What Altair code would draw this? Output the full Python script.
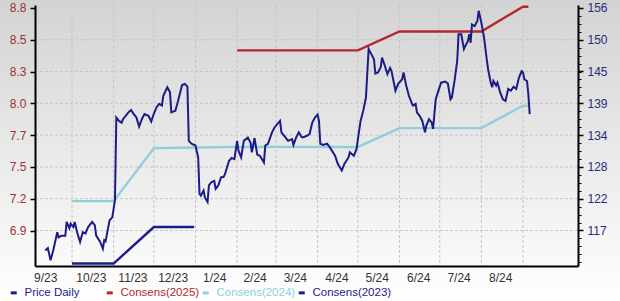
import altair as alt
import pandas as pd

FONT = "Liberation Sans"

# ---------------- data ----------------
price_dates = [
    "2023-09-11", "2023-09-13", "2023-09-15", "2023-09-17", "2023-09-20", "2023-09-21", "2023-09-23",
    "2023-09-26", "2023-09-27", "2023-09-29", "2023-09-30", "2023-10-02", "2023-10-03", "2023-10-05",
    "2023-10-07", "2023-10-09", "2023-10-11", "2023-10-13", "2023-10-16", "2023-10-18", "2023-10-19",
    "2023-10-22", "2023-10-24", "2023-10-25", "2023-10-26", "2023-10-28", "2023-10-29", "2023-10-31",
    "2023-11-02", "2023-11-03", "2023-11-05", "2023-11-07", "2023-11-08", "2023-11-10", "2023-11-12",
    "2023-11-14", "2023-11-16", "2023-11-18", "2023-11-20", "2023-11-22", "2023-11-24", "2023-11-27",
    "2023-11-29", "2023-12-01", "2023-12-03", "2023-12-05", "2023-12-07", "2023-12-08", "2023-12-11",
    "2023-12-13", "2023-12-14", "2023-12-17", "2023-12-19", "2023-12-22", "2023-12-24", "2023-12-26",
    "2023-12-27", "2023-12-29", "2024-01-01", "2024-01-03", "2024-01-04", "2024-01-05", "2024-01-07",
    "2024-01-08", "2024-01-10", "2024-01-11", "2024-01-13", "2024-01-15", "2024-01-16", "2024-01-18",
    "2024-01-20", "2024-01-22", "2024-01-23", "2024-01-26", "2024-01-28", "2024-01-30", "2024-02-01",
    "2024-02-02", "2024-02-04", "2024-02-06", "2024-02-09", "2024-02-11", "2024-02-12", "2024-02-14",
    "2024-02-16", "2024-02-18", "2024-02-21", "2024-02-22", "2024-02-24", "2024-02-27", "2024-02-29",
    "2024-03-04", "2024-03-05", "2024-03-08", "2024-03-10", "2024-03-13", "2024-03-14", "2024-03-16",
    "2024-03-18", "2024-03-20", "2024-03-21", "2024-03-24", "2024-03-26", "2024-03-28", "2024-03-30",
    "2024-04-01", "2024-04-02", "2024-04-03", "2024-04-05", "2024-04-08", "2024-04-10", "2024-04-14",
    "2024-04-16", "2024-04-19", "2024-04-21", "2024-04-24", "2024-04-25", "2024-04-28", "2024-04-30",
    "2024-05-01", "2024-05-03", "2024-05-05", "2024-05-07", "2024-05-09", "2024-05-11", "2024-05-13",
    "2024-05-14", "2024-05-16", "2024-05-18", "2024-05-19", "2024-05-21", "2024-05-23", "2024-05-25",
    "2024-05-26", "2024-05-29", "2024-05-31", "2024-06-03", "2024-06-04", "2024-06-06", "2024-06-08",
    "2024-06-10", "2024-06-11", "2024-06-13", "2024-06-14", "2024-06-16", "2024-06-18", "2024-06-20",
    "2024-06-21", "2024-06-23", "2024-06-25", "2024-06-26", "2024-06-28", "2024-06-30", "2024-07-02",
    "2024-07-05", "2024-07-07", "2024-07-09", "2024-07-10", "2024-07-12", "2024-07-14", "2024-07-15",
    "2024-07-17", "2024-07-19", "2024-07-20", "2024-07-22", "2024-07-23", "2024-07-24", "2024-07-25",
    "2024-07-27", "2024-07-29", "2024-07-30", "2024-08-01", "2024-08-03", "2024-08-05", "2024-08-06",
    "2024-08-08", "2024-08-09", "2024-08-10", "2024-08-12", "2024-08-13", "2024-08-14", "2024-08-15",
    "2024-08-17", "2024-08-19", "2024-08-21", "2024-08-23", "2024-08-25", "2024-08-27", "2024-08-29",
    "2024-08-31", "2024-09-01", "2024-09-02", "2024-09-04", "2024-09-05", "2024-09-06",
]
price_values = [
    113.3, 113.7, 111.6, 113.3, 116.5, 115.6, 115.9,
    115.9, 118.3, 117.2, 118.0, 117.4, 118.3, 116.3,
    114.8, 116.5, 116.3, 117.4, 118.3, 117.7, 115.9,
    114.8, 113.6, 115.1, 114.9, 117.4, 118.6, 119.1,
    122.1, 136.6, 136.0, 135.7, 136.3, 136.9, 137.5,
    137.9, 137.2, 136.6, 135.0, 136.3, 137.2, 136.9,
    135.9, 137.3, 138.4, 139.0, 138.7, 140.4, 141.9,
    141.0, 137.5, 137.8, 139.5, 142.3, 142.5, 142.0,
    132.5, 132.0, 131.7, 129.6, 123.2, 122.9, 123.8,
    122.6, 121.8, 124.7, 125.3, 125.5, 124.1, 124.7,
    126.1, 126.2, 126.7, 129.0, 129.5, 129.3, 132.5,
    130.8, 129.6, 132.5, 133.1, 132.2, 130.5, 133.0,
    130.1, 129.9, 128.7, 131.7, 132.0, 134.0, 134.9,
    136.0, 134.0, 133.1, 132.5, 132.8, 131.8, 133.1,
    134.0, 133.2, 133.1, 133.4, 133.7, 135.7, 136.6,
    137.1, 136.0, 132.0, 131.8, 132.0, 131.4, 129.9,
    128.5, 127.3, 128.5, 129.6, 130.5, 129.9, 131.1,
    132.8, 136.0, 137.8, 140.1, 148.6, 147.7, 146.8,
    144.3, 144.5, 145.4, 147.1, 145.7, 144.2, 145.3,
    144.8, 141.3, 142.5, 143.3, 144.5, 142.2, 140.4,
    139.2, 138.7, 139.0, 137.5, 136.9, 136.0, 134.0,
    135.2, 136.3, 135.7, 134.6, 139.8, 141.3, 142.7,
    142.9, 142.6, 139.8, 140.1, 143.0, 146.5, 151.2,
    151.2, 148.6, 149.1, 150.0, 151.2, 149.7, 152.9,
    152.6, 153.5, 155.3, 153.2, 150.6, 146.8, 145.1,
    142.7, 141.9, 143.0, 142.2, 142.7, 141.9, 141.0,
    139.8, 139.5, 141.6, 141.3, 142.0, 141.6, 143.6,
    144.7, 144.5, 143.3, 143.0, 140.7, 137.2,
]

cons2025_dates = ["2024-02-01", "2024-05-01", "2024-06-01", "2024-08-01", "2024-09-01", "2024-09-05"]
cons2025_values = [8.45, 8.45, 8.61, 8.61, 8.82, 8.82]

cons2024_dates = ["2023-10-01", "2023-11-01", "2023-12-01", "2024-01-01", "2024-02-01", "2024-05-01",
                  "2024-06-01", "2024-08-01", "2024-09-01", "2024-09-05"]
cons2024_values = [7.17, 7.17, 7.62, 7.625, 7.63, 7.63, 7.79, 7.79, 7.98, 7.98]

cons2023_dates = ["2023-10-01", "2023-11-01", "2023-12-01", "2023-12-31"]
cons2023_values = [6.64, 6.64, 6.95, 6.95]

series_names = ["Price Daily", "Consens(2025)", "Consens(2024)", "Consens(2023)"]
series_colors = ["#1c1c88", "#b2282c", "#8ecfda", "#1c1c88"]

left_ticks = [6.92, 7.19, 7.46, 7.73, 8.0, 8.27, 8.54, 8.81]
right_ticks = [116.8, 122.37, 127.94, 133.51, 139.09, 144.66, 150.23, 155.8]
month_starts = ["2023-10-01", "2023-11-01", "2023-12-01", "2024-01-01", "2024-02-01", "2024-03-01",
                "2024-04-01", "2024-05-01", "2024-06-01", "2024-07-01", "2024-08-01", "2024-09-01"]
label_days = ["2023-09-11", "2023-10-15", "2023-11-15", "2023-12-15", "2024-01-15", "2024-02-14",
              "2024-03-15", "2024-04-15", "2024-05-15", "2024-06-15", "2024-07-15", "2024-08-15"]

# ---------------- tables ----------------
price_df = pd.DataFrame({"date": price_dates, "price": price_values, "series": "Price Daily"})
cons_df = pd.concat([
    pd.DataFrame({"date": cons2025_dates, "value": cons2025_values, "series": "Consens(2025)"}),
    pd.DataFrame({"date": cons2024_dates, "value": cons2024_values, "series": "Consens(2024)"}),
    pd.DataFrame({"date": cons2023_dates, "value": cons2023_values, "series": "Consens(2023)"}),
], ignore_index=True)
vgrid_df = pd.DataFrame({"date": month_starts})
hgrid_df = pd.DataFrame({"v": left_ticks[:-1]})

step = (right_ticks[-1] - right_ticks[0]) / 7 / 4
minor_ticks = [round(right_ticks[0] + k * step, 3) for k in range(-4, 29)]


def dt(s):
    y, m, d = (int(p) for p in s.split("-"))
    return alt.DateTime(year=y, month=m, date=d, utc=True)


x_scale = alt.Scale(type="utc", domain=[alt.DateTime(year=2023, month=9, date=3, hours=10, utc=True),
                                        alt.DateTime(year=2024, month=10, date=12, utc=True)])
x_axis = alt.Axis(values=[dt(s) for s in label_days], grid=False, ticks=False, title=None,
                  labelExpr="utcFormat(datum.value, '%-m/%y')", labelFont=FONT,
                  labelFontSize=12, labelColor="#333333", labelPadding=6,
                  domainColor="black", domainWidth=2, labelOverlap=False,
                  labelFlush=False, zindex=1)
left_scale = alt.Scale(domain=[6.619, 8.835], nice=False, zero=False)
right_scale = alt.Scale(domain=[110.58, 156.31], nice=False, zero=False)
color_scale = alt.Scale(domain=series_names, range=series_colors)

GRID = "#c6c6c6"

legend = alt.Legend(
    orient="none", legendX=-27, legendY=282, direction="horizontal", columns=4, title=None,
    symbolType="stroke", symbolSize=36, symbolStrokeWidth=3, labelFont=FONT, labelFontSize=11.5,
    labelColor={"expr": "scale('color', datum.value)"}, columnPadding=-5, gridAlign="all",
    labelOffset=5, padding=0, zindex=1,
)

gradient = alt.Gradient(
    gradient="linear",
    stops=[alt.GradientStop(color="#d3d3d3", offset=0), alt.GradientStop(color="#ffffff", offset=1)],
    x1=0, x2=0, y1=0, y2=1,
)

bg = alt.Chart(alt.Data(values=[{"a": 1}])).mark_rect(fill=gradient).encode(
    x=alt.value(-35), x2=alt.value(585), y=alt.value(-5), y2=alt.value(296)
)

vgrid = alt.Chart(vgrid_df).mark_rule(color=GRID, strokeDash=[3, 2], strokeWidth=1).encode(
    x=alt.X("date:T", scale=x_scale, axis=x_axis)
)

hgrid = alt.Chart(hgrid_df).mark_rule(color=GRID, strokeDash=[3, 2], strokeWidth=1).encode(
    y=alt.Y("v:Q", scale=left_scale, axis=None)
)

cons = alt.Chart(cons_df).mark_line(strokeWidth=2.4).encode(
    x=alt.X("date:T", scale=x_scale, axis=x_axis),
    y=alt.Y("value:Q", scale=left_scale, title=None,
            axis=alt.Axis(orient="left", values=left_ticks, format=".1f", grid=False,
                          labelFont=FONT, labelFontSize=12, labelColor="#a3302c",
                          tickColor="black", tickSize=5, tickWidth=1.5, labelPadding=4,
                          domainColor="black", domainWidth=2, labelOverlap=False, zindex=1)),
    color=alt.Color("series:N", scale=color_scale, legend=legend),
    detail="series:N",
)

price = alt.Chart(price_df).mark_line(strokeWidth=2).encode(
    x=alt.X("date:T", scale=x_scale, axis=x_axis),
    y=alt.Y("price:Q", scale=right_scale, title=None,
            axis=alt.Axis(orient="right", values=right_ticks, format=".0f", grid=False,
                          labelFont=FONT, labelFontSize=12, labelColor="#2a2a78",
                          tickColor="black", tickSize=5, tickWidth=1.5, labelPadding=4,
                          domainColor="black", domainWidth=2, labelOverlap=False, zindex=1)),
    color=alt.Color("series:N", scale=color_scale, legend=legend),
)

minor = alt.Chart(price_df).mark_line(strokeOpacity=0).encode(
    x=alt.X("date:T", scale=x_scale, axis=x_axis),
    y=alt.Y("price:Q", scale=right_scale, title=None,
            axis=alt.Axis(orient="right", values=minor_ticks, labels=False, grid=False,
                          tickColor="black", tickSize=3, tickWidth=1, domain=False, zindex=1)),
)

chart = alt.layer(bg, vgrid, hgrid, cons, price, minor).resolve_scale(y="independent").properties(
    width=543, height=261,
    autosize=alt.AutoSizeParams(type="none"),
    padding={"left": 35, "top": 5, "right": 42, "bottom": 35},
    background="white",
).configure_view(stroke=None)

chart.save("out.html", embed_options={"renderer": "svg", "actions": False})
